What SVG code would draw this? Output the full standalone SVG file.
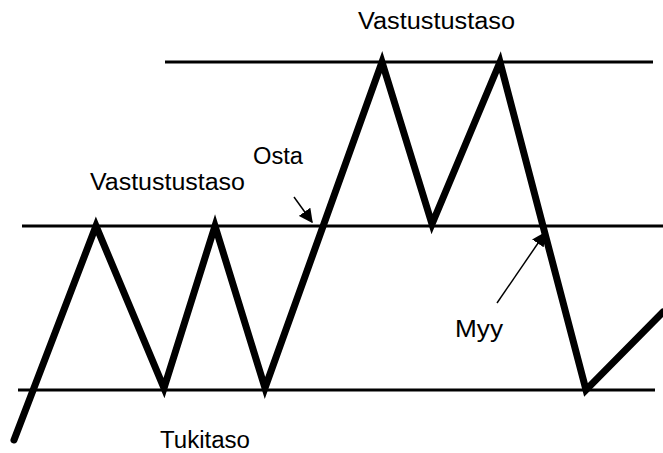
<svg xmlns="http://www.w3.org/2000/svg" width="663" height="453" viewBox="0 0 663 453">
<defs>
<style>
.lvl{stroke:#000;stroke-width:3;fill:none}
.price{stroke:#000;stroke-width:7;fill:none;stroke-linejoin:miter;stroke-miterlimit:10;stroke-linecap:round}
.ptr{stroke:#000;stroke-width:1.5;fill:none}
.lbl{font-family:"Liberation Sans",Arial,sans-serif;font-size:23px;fill:#000}
</style>
<marker id="ah" viewBox="0 0 10 10" refX="9" refY="5" markerWidth="10" markerHeight="10" markerUnits="userSpaceOnUse" orient="auto">
<path d="M0,0 L10,5 L0,10 Z" fill="#000"/>
</marker>
<marker id="ah2" viewBox="0 0 10 10" refX="9" refY="5" markerWidth="14" markerHeight="14" markerUnits="userSpaceOnUse" orient="auto">
<path d="M0,0 L10,5 L0,10 Z" fill="#000"/>
</marker>
</defs>
<g id="levels">
<line id="resistance-top" class="lvl" x1="165" y1="62" x2="653" y2="62"/>
<line id="resistance-mid" class="lvl" x1="22" y1="226" x2="663" y2="226"/>
<line id="support" class="lvl" x1="18" y1="390" x2="655" y2="390"/>
</g>
<g id="price">
<polyline class="price" points="14,440 96,226 164,388 215,226 265,388 382,62 432,224 500,62 586,390 663,312"/>
</g>
<g id="connectors">
<line class="ptr" x1="294" y1="197" x2="312" y2="222" marker-end="url(#ah2)"/>
<line class="ptr" x1="497" y1="303" x2="545" y2="233" marker-end="url(#ah2)"/>
</g>
<g id="label-top"><text class="lbl" x="358" y="29" textLength="157" lengthAdjust="spacingAndGlyphs">Vastustustaso</text></g>
<g id="label-left"><text class="lbl" x="90" y="190" textLength="155" lengthAdjust="spacingAndGlyphs">Vastustustaso</text></g>
<g id="label-osta"><text class="lbl" x="253" y="164" textLength="50" lengthAdjust="spacingAndGlyphs">Osta</text></g>
<g id="label-myy"><text class="lbl" x="455" y="337" textLength="48" lengthAdjust="spacingAndGlyphs">Myy</text></g>
<g id="label-tukitaso"><text class="lbl" x="160" y="448" textLength="90" lengthAdjust="spacingAndGlyphs">Tukitaso</text></g>
</svg>
